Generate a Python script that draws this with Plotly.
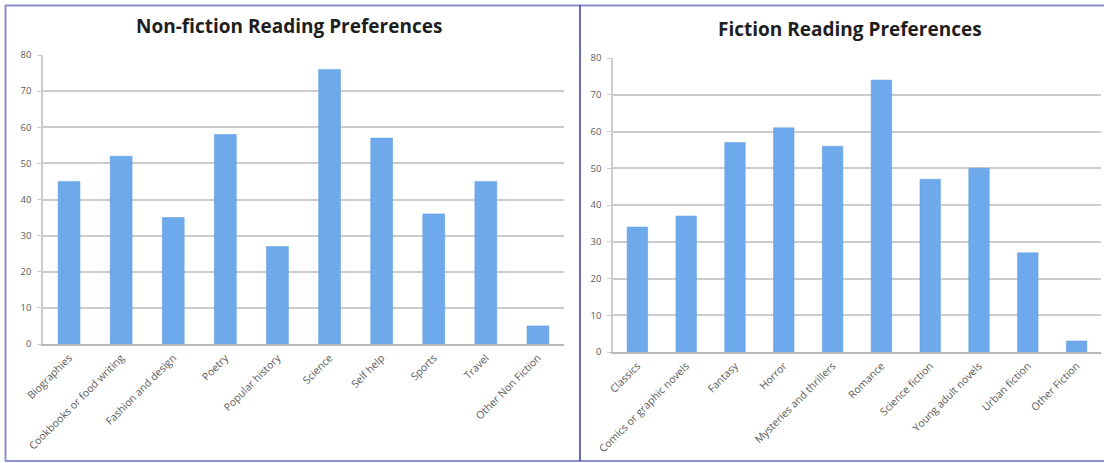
import plotly.graph_objects as go

nf_categories = ["Biographies", "Cookbooks or food writing", "Fashion and design", "Poetry",
                 "Popular history", "Science", "Self help", "Sports", "Travel", "Other Non Fiction"]
nf_values = [45, 52, 35, 58, 27, 76, 57, 36, 45, 5]

f_categories = ["Classics", "Comics or graphic novels", "Fantasy", "Horror",
                "Mysteries and thrillers", "Romance", "Science fiction", "Young adult novels",
                "Urban fiction", "Other Fiction"]
f_values = [34, 37, 57, 61, 56, 74, 47, 50, 27, 3]

y_ticks = [0, 10, 20, 30, 40, 50, 60, 70, 80]

W, H = 1104, 463
bar_color = "#6eaaeb"
x_tick_font = dict(family="Open Sans, DejaVu Sans, sans-serif", size=10.5, color="#5a5a5a")
y_tick_font = dict(family="Open Sans, DejaVu Sans, sans-serif", size=9.5, color="#5a5a5a")

fig = go.Figure()
fig.add_trace(go.Bar(x=nf_categories, y=nf_values, xaxis="x", yaxis="y",
                     marker=dict(color=bar_color, line=dict(color="#5b98dd", width=0.5)),
                     width=0.42, showlegend=False))
fig.add_trace(go.Bar(x=f_categories, y=f_values, xaxis="x2", yaxis="y2",
                     marker=dict(color=bar_color, line=dict(color="#5b98dd", width=0.5)),
                     width=0.42, showlegend=False))

def px_x(p):
    return p / W

def px_y(p):
    return 1 - p / H

xaxis_common = dict(tickangle=-45, tickfont=x_tick_font, showgrid=False, showline=True,
                    linecolor="#b8b8b8", linewidth=1.5, ticks="", fixedrange=True,
                    automargin=False, ticklabelstandoff=2)
yaxis_common = dict(range=[0, 80], tickvals=y_ticks, tickfont=y_tick_font, showgrid=True,
                    gridcolor="#cccccc", gridwidth=1.5, showline=True, linecolor="#cccccc",
                    linewidth=1.5, zeroline=False, ticks="outside", ticklen=4,
                    tickcolor="#cccccc", ticklabelstandoff=4, automargin=False)

fig.update_layout(
    width=W, height=H,
    margin=dict(l=0, r=0, t=0, b=0, autoexpand=False),
    paper_bgcolor="white", plot_bgcolor="white",
    bargap=0.58,
    xaxis=dict(domain=[px_x(43), px_x(564)], anchor="y", **xaxis_common),
    yaxis=dict(domain=[px_y(344), px_y(55)], anchor="x", **yaxis_common),
    xaxis2=dict(domain=[px_x(613), px_x(1101)], anchor="y2", **xaxis_common),
    yaxis2=dict(domain=[px_y(352), px_y(58)], anchor="x2", **yaxis_common),
    annotations=[
        dict(text="<b>Non-fiction Reading Preferences</b>", x=px_x(289), y=px_y(26),
             xref="paper", yref="paper", showarrow=False, xanchor="center", yanchor="middle",
             font=dict(family="Open Sans, sans-serif", size=19, color="#1e1e1e")),
        dict(text="<b>Fiction Reading Preferences</b>", x=px_x(850), y=px_y(29),
             xref="paper", yref="paper", showarrow=False, xanchor="center", yanchor="middle",
             font=dict(family="Open Sans, sans-serif", size=19, color="#1e1e1e")),
    ],
    shapes=[
        dict(type="line", xref="paper", yref="paper", x0=px_x(5), x1=1, y0=px_y(5.5), y1=px_y(5.5),
             line=dict(color="#8c8cd2", width=2)),
        dict(type="line", xref="paper", yref="paper", x0=px_x(5), x1=1, y0=px_y(461), y1=px_y(461),
             line=dict(color="#8c8cd2", width=2)),
        dict(type="line", xref="paper", yref="paper", x0=px_x(5.5), x1=px_x(5.5), y0=px_y(5), y1=px_y(461),
             line=dict(color="#8c8cd2", width=2)),
        dict(type="line", xref="paper", yref="paper", x0=px_x(580), x1=px_x(580), y0=px_y(5), y1=px_y(461),
             line=dict(color="#3b3ba6", width=1.5)),
    ],
)

fig.write_html("out.html")
